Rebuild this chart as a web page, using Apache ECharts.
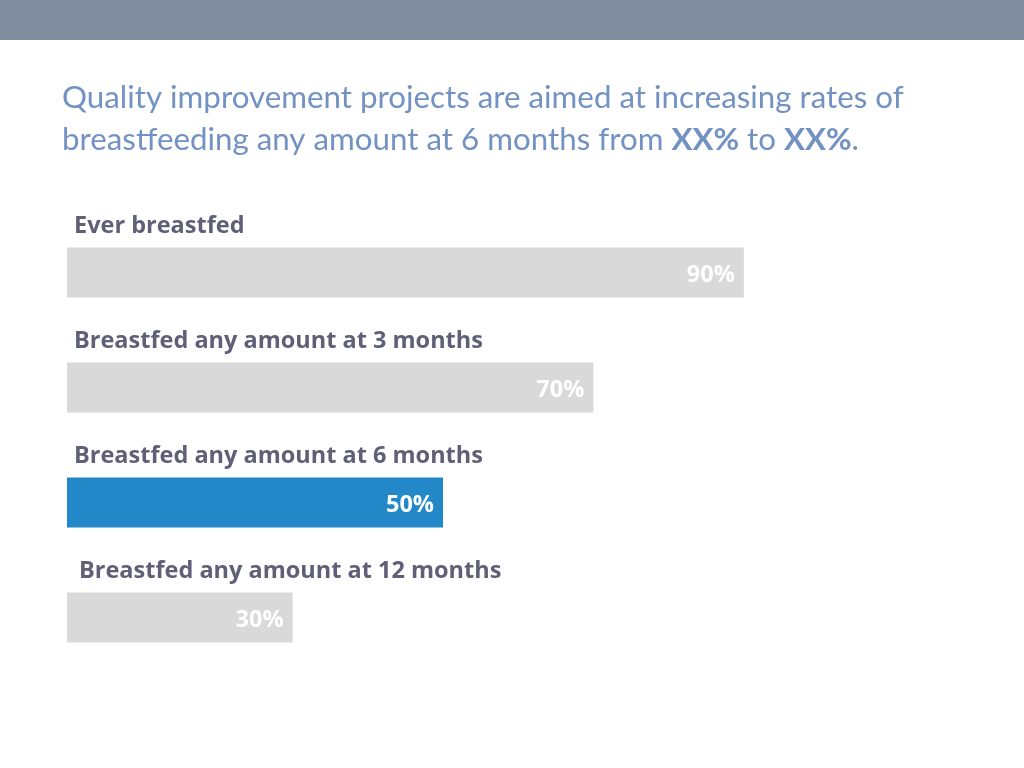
<!DOCTYPE html>
<html><head><meta charset="utf-8">
<script src="https://cdn.jsdelivr.net/npm/echarts@6/dist/echarts.min.js"></script>
<style>html,body{margin:0;padding:0;background:#fff}#c{width:1024px;height:768px}</style>
</head><body><div id="c"></div>
<script>
const categories = ["Ever breastfed", "Breastfed any amount at 3 months", "Breastfed any amount at 6 months", "Breastfed any amount at 12 months"];
const values = [90, 70, 50, 30];
const highlighted = [false, false, true, false];

const chart = echarts.init(document.getElementById('c'), null, {renderer: 'canvas'});
chart.setOption({
  backgroundColor: '#ffffff',
  animation: false,
  graphic: [
    {type: 'rect', left: 0, top: 0, shape: {width: 1024, height: 40}, style: {fill: '#808ea0'}}
  ],
  title: {
    left: 62, top: 77, padding: 0,
    text: 'Quality improvement projects are aimed at increasing rates of\nbreastfeeding any amount at 6 months from {b|XX%} to {b|XX%}.',
    textStyle: {
      fontFamily: 'Lato', fontSize: 31.3, fontWeight: 'normal', color: '#7292c4', lineHeight: 42,
      rich: {b: {fontFamily: 'Lato', fontSize: 31.3, fontWeight: 'bold', color: '#7292c4', lineHeight: 42}}
    }
  },
  grid: {left: 67, width: 752, top: 215, height: 460},
  xAxis: {type: 'value', min: 0, max: 100, show: false},
  yAxis: {
    type: 'category', inverse: true,
    data: categories.map((c, i) => ({value: c, textStyle: {padding: [0, 0, 0, i === 3 ? 12 : 7]}})),
    axisLine: {show: false}, axisTick: {show: false}, splitLine: {show: false},
    axisLabel: {
      inside: true, interval: 0, hideOverlap: false, align: 'left', verticalAlign: 'middle',
      fontFamily: 'Open Sans', fontWeight: 'bold', fontSize: 23.5, color: '#5f6078',
      margin: 0, lineHeight: 31,
      formatter: v => v + '\n\n\n'
    }
  },
  series: [{
    type: 'bar', barWidth: 50,
    data: values.map((v, i) => ({value: v, itemStyle: {color: highlighted[i] ? '#2288c8' : '#d9d9d9'}})),
    label: {
      show: true, position: 'insideRight', distance: 9, offset: [0, 3],
      formatter: p => p.value + '%',
      fontFamily: 'Open Sans', fontWeight: 'bold', fontSize: 23.5, color: '#ffffff'
    }
  }]
});
</script></body></html>
